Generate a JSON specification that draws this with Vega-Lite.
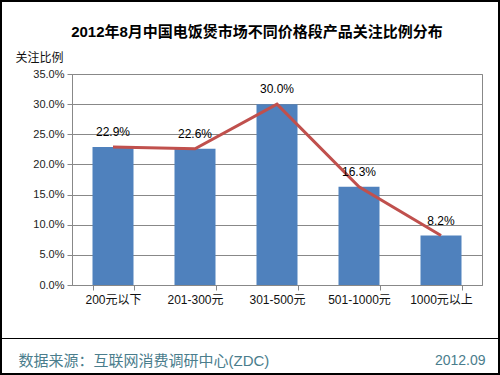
{
  "$schema": "https://vega.github.io/schema/vega-lite/v6.json",
  "width": 410,
  "height": 211,
  "autosize": "none",
  "padding": {"left": 72, "top": 74, "right": 18, "bottom": 90},
  "background": "white",
  "title": {
    "text": "2012年8月中国电饭煲市场不同价格段产品关注比例分布",
    "font": "Liberation Sans, Noto Sans CJK SC",
    "fontSize": 15,
    "fontWeight": "bold",
    "color": "black",
    "anchor": "middle",
    "dx": -20,
    "offset": -40
  },
  "config": {
    "view": {"stroke": "#888888", "strokeWidth": 1},
    "font": "Liberation Sans, Noto Sans CJK SC"
  },
  "data": {
    "values": [
      {"segment": "200元以下", "share": 0.229},
      {"segment": "201-300元", "share": 0.226},
      {"segment": "301-500元", "share": 0.300},
      {"segment": "501-1000元", "share": 0.163},
      {"segment": "1000元以上", "share": 0.082}
    ]
  },
  "layer": [
    {
      "mark": {"type": "bar", "color": "#4f81bd"},
      "encoding": {
        "x": {
          "field": "segment",
          "type": "nominal",
          "sort": null,
          "scale": {"paddingInner": 0.5, "paddingOuter": 0.25},
          "axis": {
            "labelAngle": 0,
            "labelFontSize": 12,
            "labelColor": "#111111",
            "labelPadding": 4,
            "tickBand": "extent",
            "tickColor": "#888888",
            "tickSize": 5,
            "domainColor": "#888888",
            "title": "数据来源：互联网消费调研中心(ZDC)",
            "titleFont": "Liberation Sans, Noto Sans CJK SC",
            "titleFontSize": 15,
            "titleFontWeight": "normal",
            "titleColor": "#4a7d8c",
            "titleAnchor": "start",
            "titleAlign": "left",
            "titleBaseline": "middle",
            "titleX": -54,
            "titleY": 75
          }
        },
        "y": {
          "field": "share",
          "type": "quantitative",
          "scale": {"domain": [0, 0.35], "nice": false},
          "axis": {
            "format": ".1%",
            "values": [0, 0.05, 0.1, 0.15, 0.2, 0.25, 0.3, 0.35],
            "labelFontSize": 11,
            "labelColor": "#222222",
            "labelPadding": 3,
            "tickColor": "#888888",
            "tickSize": 5,
            "domainColor": "#888888",
            "grid": true,
            "gridColor": "#888888",
            "title": "关注比例",
            "titleFontSize": 12,
            "titleFontWeight": "normal",
            "titleColor": "#111111",
            "titleAngle": 0,
            "titleAlign": "left",
            "titleBaseline": "middle",
            "titleX": -57,
            "titleY": -17
          }
        }
      }
    },
    {
      "mark": {"type": "line", "color": "#c0504d", "strokeWidth": 3},
      "encoding": {
        "x": {"field": "segment", "type": "nominal", "sort": null},
        "y": {
          "field": "share",
          "type": "quantitative",
          "scale": {"domain": [0, 0.35], "nice": false},
          "axis": {
            "orient": "right",
            "labels": false,
            "ticks": false,
            "domain": false,
            "grid": false,
            "title": "2012.09",
            "titleFont": "Liberation Sans",
            "titleFontSize": 14,
            "titleFontWeight": "normal",
            "titleColor": "#4a7d8c",
            "titleAngle": 0,
            "titleAlign": "right",
            "titleBaseline": "middle",
            "titleX": 3,
            "titleY": 286
          }
        }
      }
    },
    {
      "mark": {"type": "text", "baseline": "bottom", "dy": -8, "fontSize": 12, "color": "black"},
      "encoding": {
        "x": {"field": "segment", "type": "nominal", "sort": null},
        "y": {
          "field": "share",
          "type": "quantitative",
          "scale": {"domain": [0, 0.35], "nice": false},
          "axis": null
        },
        "text": {"field": "share", "type": "quantitative", "format": ".1%"}
      }
    },
    {
      "data": {"values": [{"part": "footer"}]},
      "mark": {"type": "rule", "color": "#000000", "strokeWidth": 1},
      "encoding": {
        "x": {"value": -72},
        "x2": {"value": 428},
        "y": {"value": 264.5}
      }
    },
    {
      "data": {"values": [{"part": "frame"}]},
      "mark": {"type": "rect", "fill": null, "stroke": "#000000", "strokeWidth": 2},
      "encoding": {
        "x": {"value": -71},
        "x2": {"value": 427},
        "y": {"value": -73},
        "y2": {"value": 300}
      }
    }
  ],
  "resolve": {"scale": {"y": "independent"}, "axis": {"y": "independent"}}
}
